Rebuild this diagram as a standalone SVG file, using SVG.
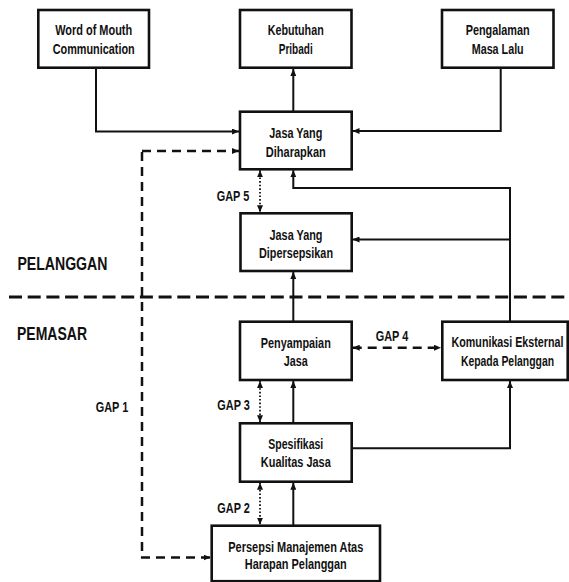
<svg xmlns="http://www.w3.org/2000/svg" width="569" height="582" viewBox="0 0 569 582">
  <style>
    .box { fill: #fff; stroke: #111; stroke-width: 2.6; }
    .t { font-family: "Liberation Sans", Arial, sans-serif; font-weight: bold; font-size: 15px; fill: #111; text-anchor: middle; }
    .gap { font-family: "Liberation Sans", Arial, sans-serif; font-weight: bold; font-size: 15px; fill: #111; text-anchor: middle; }
    .zone { font-family: "Liberation Sans", Arial, sans-serif; font-weight: bold; font-size: 18.5px; fill: #111; }
    .solid { fill: none; stroke: #111; stroke-width: 2; marker-end: url(#ah); }
    .dash { fill: none; stroke: #111; stroke-width: 2.5; stroke-dasharray: 9 6; }
    .dot { fill: none; stroke: #111; stroke-width: 1.8; stroke-dasharray: 1.6 2; marker-start: url(#ah); marker-end: url(#ah); }
    .sep { fill: none; stroke: #111; stroke-width: 3; stroke-dasharray: 13 5.7; }
  </style>
  <defs>
    <marker id="ah" markerUnits="userSpaceOnUse" markerWidth="8" markerHeight="6" refX="7" refY="3" orient="auto-start-reverse">
      <path d="M0,0 L7,3 L0,6 z" fill="#111"/>
    </marker>
  </defs>
  <rect width="569" height="582" fill="#fff"/>

  <g id="connectors">
    <path class="solid" d="M96,68 V131.5 H239"/>
    <path class="solid" d="M500.7,68 V131 H352.5"/>
    <path class="solid" d="M293.3,111.7 V69"/>
    <path class="solid" d="M510,321.7 V188 H293.3 V170.3"/>
    <path class="solid" d="M510,239.5 H352.5"/>
    <path class="solid" d="M293.3,321.7 V272"/>
    <path class="solid" d="M293.3,423.3 V381"/>
    <path class="solid" d="M351.7,448.3 H510 V381"/>
    <path class="solid" d="M293.3,525.7 V482.7"/>
    <path class="dot" d="M260,170.3 V212.3"/>
    <path class="dot" d="M260,381 V422.3"/>
    <path class="dot" d="M260,482.7 V524.7"/>
    <path class="dash" d="M352.7,347.7 H441" style="marker-start:url(#ah);marker-end:url(#ah)"/>
    <path class="dash" d="M142,151 H239" style="marker-end:url(#ah)"/>
    <path class="dash" d="M142,152 V557.5"/>
    <path class="dash" d="M141,557.5 H210.5" style="marker-end:url(#ah)"/>
    <path class="sep" d="M9,297 H569"/>
  </g>

  <g id="word-of-mouth">
    <rect class="box" x="38.3" y="10" width="110.7" height="57.7"/>
    <text class="t" x="93.7" y="35" textLength="77" lengthAdjust="spacingAndGlyphs">Word of Mouth</text>
    <text class="t" x="93.7" y="54.3" textLength="82" lengthAdjust="spacingAndGlyphs">Communication</text>
  </g>
  <g id="kebutuhan-pribadi">
    <rect class="box" x="240" y="10" width="111.5" height="57.7"/>
    <text class="t" x="295.7" y="35" textLength="56" lengthAdjust="spacingAndGlyphs">Kebutuhan</text>
    <text class="t" x="295.7" y="54.3" textLength="34" lengthAdjust="spacingAndGlyphs">Pribadi</text>
  </g>
  <g id="pengalaman-masa-lalu">
    <rect class="box" x="442" y="10" width="111.5" height="57.7"/>
    <text class="t" x="497.7" y="35" textLength="64" lengthAdjust="spacingAndGlyphs">Pengalaman</text>
    <text class="t" x="497.7" y="54.3" textLength="52" lengthAdjust="spacingAndGlyphs">Masa Lalu</text>
  </g>
  <g id="jasa-diharapkan">
    <rect class="box" x="240" y="111.7" width="111.7" height="57.6"/>
    <text class="t" x="295.8" y="138.3" textLength="53" lengthAdjust="spacingAndGlyphs">Jasa Yang</text>
    <text class="t" x="295.8" y="156.7" textLength="60" lengthAdjust="spacingAndGlyphs">Diharapkan</text>
  </g>
  <g id="jasa-dipersepsikan">
    <rect class="box" x="240.5" y="213.3" width="111.2" height="57.7"/>
    <text class="t" x="296" y="240" textLength="53" lengthAdjust="spacingAndGlyphs">Jasa Yang</text>
    <text class="t" x="296" y="258" textLength="74" lengthAdjust="spacingAndGlyphs">Dipersepsikan</text>
  </g>
  <g id="penyampaian-jasa">
    <rect class="box" x="240" y="321.7" width="111.7" height="58.3"/>
    <text class="t" x="295.8" y="347.7" textLength="70" lengthAdjust="spacingAndGlyphs">Penyampaian</text>
    <text class="t" x="295.8" y="366.3" textLength="24" lengthAdjust="spacingAndGlyphs">Jasa</text>
  </g>
  <g id="komunikasi-eksternal">
    <rect class="box" x="442.3" y="321.7" width="125.4" height="58.3"/>
    <text class="t" transform="translate(507.5,347) scale(0.715,1)">Komunikasi Eksternal</text>
    <text class="t" transform="translate(507.5,365.5) scale(0.695,1)">Kepada Pelanggan</text>
  </g>
  <g id="spesifikasi-kualitas">
    <rect class="box" x="240" y="423.3" width="111.7" height="58.4"/>
    <text class="t" x="295.8" y="448.8" textLength="55" lengthAdjust="spacingAndGlyphs">Spesifikasi</text>
    <text class="t" x="295.8" y="467.3" textLength="70" lengthAdjust="spacingAndGlyphs">Kualitas Jasa</text>
  </g>
  <g id="persepsi-manajemen">
    <rect class="box" x="211.7" y="525.7" width="168.3" height="55.5"/>
    <text class="t" x="295.8" y="551.7" textLength="135" lengthAdjust="spacingAndGlyphs">Persepsi Manajemen Atas</text>
    <text class="t" x="295.8" y="569" textLength="102" lengthAdjust="spacingAndGlyphs">Harapan Pelanggan</text>
  </g>

  <g id="labels">
    <text class="gap" x="233" y="200.7" textLength="32.5" lengthAdjust="spacingAndGlyphs">GAP 5</text>
    <text class="gap" x="392" y="340.7" textLength="32.5" lengthAdjust="spacingAndGlyphs">GAP 4</text>
    <text class="gap" x="233.6" y="410.3" textLength="32.5" lengthAdjust="spacingAndGlyphs">GAP 3</text>
    <text class="gap" x="233.6" y="513.3" textLength="32.5" lengthAdjust="spacingAndGlyphs">GAP 2</text>
    <text class="gap" x="112" y="411.7" textLength="32.5" lengthAdjust="spacingAndGlyphs">GAP 1</text>
    <text class="zone" x="17.4" y="270" textLength="90" lengthAdjust="spacingAndGlyphs">PELANGGAN</text>
    <text class="zone" x="17" y="340" textLength="70" lengthAdjust="spacingAndGlyphs">PEMASAR</text>
  </g>
</svg>
